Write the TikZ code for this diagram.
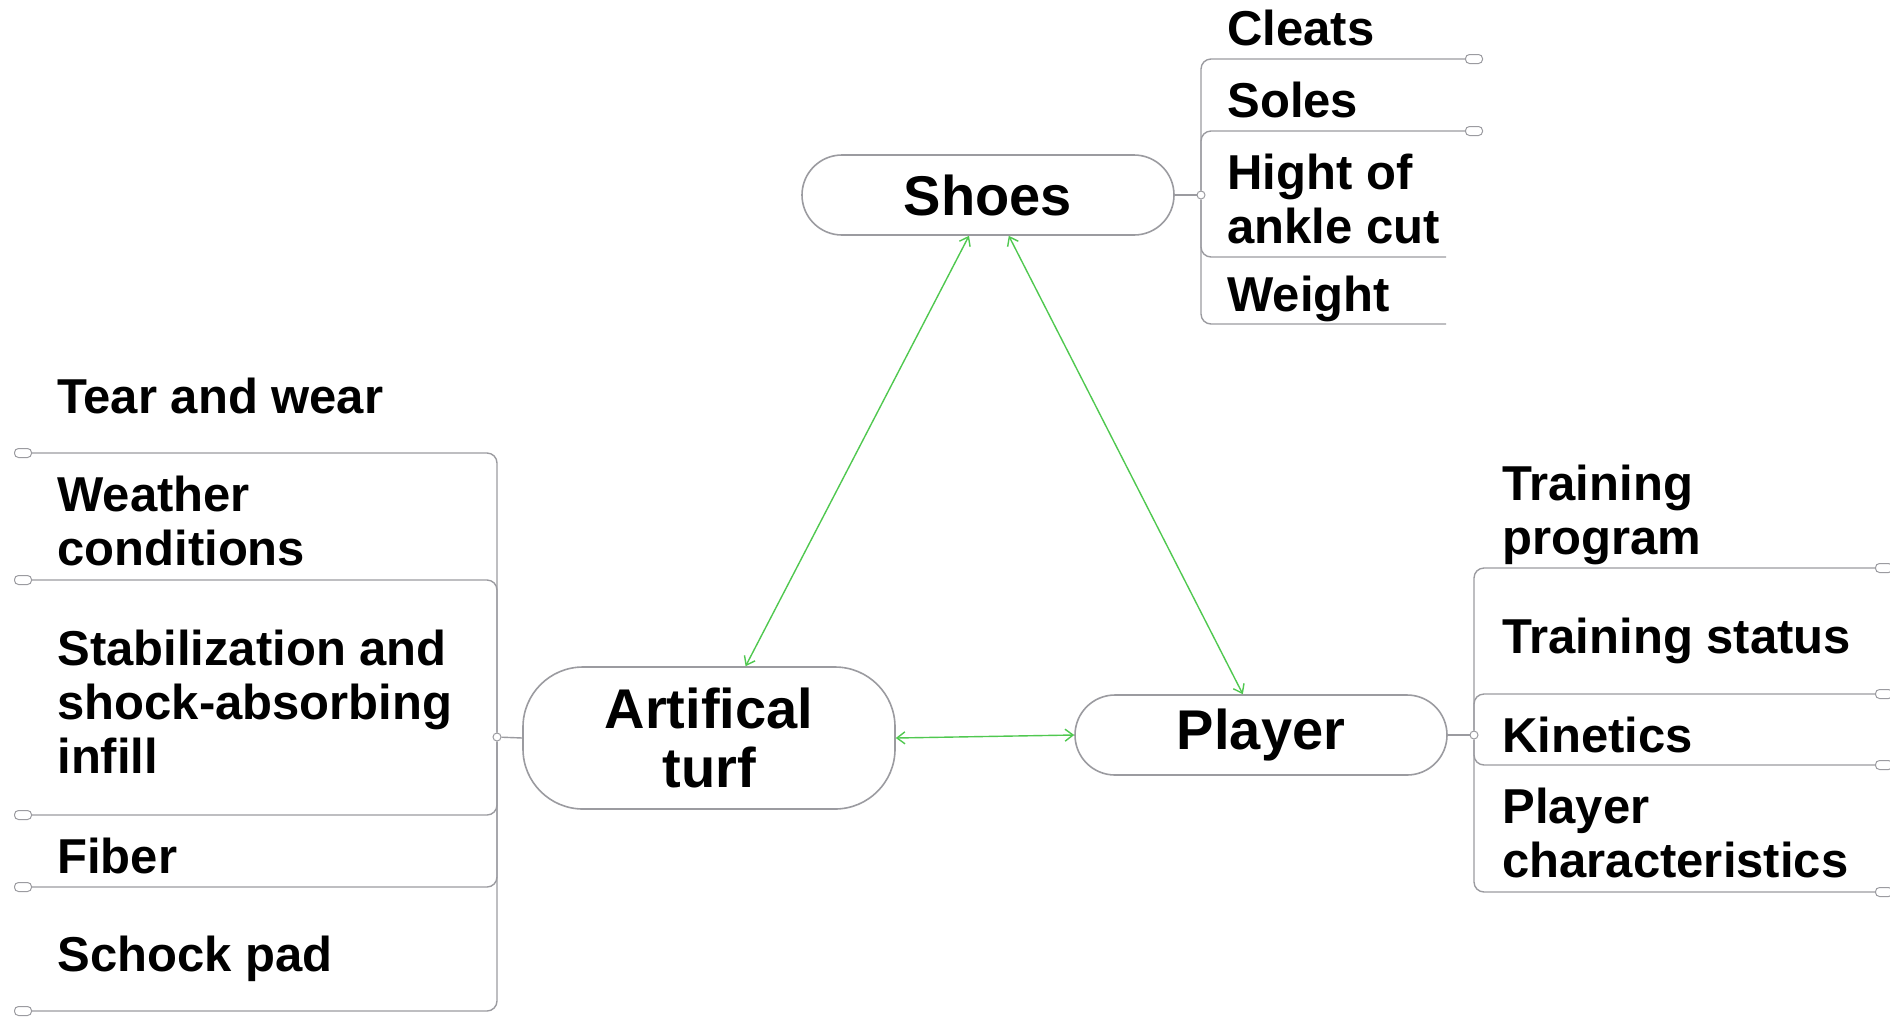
\documentclass[tikz,border=0pt]{standalone}
\usepackage{fontspec}
\setmainfont{Liberation Sans}
\usetikzlibrary{arrows.meta}
\definecolor{linkgreen}{RGB}{80,200,80}
\definecolor{framegray}{RGB}{155,155,160}
\begin{document}
\begin{tikzpicture}[x=0.5pt,y=-0.5pt,
  topic/.style={draw=framegray,line width=0.8pt,rounded corners=20pt,minimum width=186pt,minimum height=40pt,inner sep=0pt,align=center,font=\fontsize{28}{29.5}\selectfont\bfseries},
  leaf/.style={anchor=base west,inner sep=0pt,align=left,font=\fontsize{24.5}{27}\selectfont\bfseries},
  branch/.style={draw=framegray,line width=0.7pt,rounded corners=5pt},
  knob/.style={draw=framegray,line width=0.5pt,rounded corners=2pt,minimum width=8.5pt,minimum height=4.5pt,inner sep=0pt},
  hub/.style={draw=framegray,line width=0.5pt,circle,minimum size=4pt,inner sep=0pt},
  link/.style={draw=linkgreen,line width=0.7pt,{Straight Barb[length=4pt,width=6pt]}-{Straight Barb[length=4pt,width=6pt]}}]
\useasboundingbox (0,0) rectangle (1890,1019);
\node[topic] (shoes) at (988,195) {Shoes};
\node[topic,minimum height=71pt,rounded corners=30pt] (turf) at (709,738) {Artifical\\turf};
\node[topic] (player) at (1261,735) {Player};
\node[hub] (sj) at (1201,195) {};
\node[hub] (tj) at (497,737) {};
\node[hub] (pj) at (1474,735) {};
\draw[branch] (shoes.east) -- (sj);
\draw[branch] (turf.west) -- (tj);
\draw[branch] (player.east) -- (pj);
\node[leaf] (cleats) at (1227,45) {Cleats};
\node[leaf] (soles) at (1227,117) {Soles};
\node[leaf] (ankle) at (1227,243) {Hight of\\ankle cut};
\node[leaf] (weight) at (1227,311) {Weight};
\node[knob] (cleatsknob) at (1474,59) {};
\node[knob] (solesknob) at (1474,131) {};
\coordinate (ankleend) at (1446,257);
\coordinate (weightend) at (1446,324);
\draw[branch] (sj) |- (cleatsknob.west);
\draw[branch] (sj) |- (solesknob.west);
\draw[branch] (sj) |- (ankleend);
\draw[branch] (sj) |- (weightend);
\node[leaf] (tear) at (57,413) {Tear and wear};
\node[leaf] (weather) at (57,565) {Weather\\conditions};
\node[leaf] (infill) at (57,773) {Stabilization and\\shock-absorbing\\infill};
\node[leaf] (fiber) at (57,873) {Fiber};
\node[leaf] (pad) at (57,971) {Schock pad};
\node[knob] (tearknob) at (23,453) {};
\node[knob] (weatherknob) at (23,580) {};
\node[knob] (infillknob) at (23,815) {};
\node[knob] (fiberknob) at (23,887) {};
\node[knob] (padknob) at (23,1011) {};
\draw[branch] (tj) |- (tearknob.east);
\draw[branch] (tj) |- (weatherknob.east);
\draw[branch] (tj) |- (infillknob.east);
\draw[branch] (tj) |- (fiberknob.east);
\draw[branch] (tj) |- (padknob.east);
\node[leaf] (program) at (1502,554) {Training\\program};
\node[leaf] (status) at (1502,653) {Training status};
\node[leaf] (kinetics) at (1502,752) {Kinetics};
\node[leaf] (traits) at (1502,877) {Player\\characteristics};
\node[knob] (programknob) at (1884,568) {};
\node[knob] (statusknob) at (1884,694) {};
\node[knob] (kineticsknob) at (1884,765) {};
\node[knob] (traitsknob) at (1884,892) {};
\draw[branch] (pj) |- (programknob.west);
\draw[branch] (pj) |- (statusknob.west);
\draw[branch] (pj) |- (kineticsknob.west);
\draw[branch] (pj) |- (traitsknob.west);
\draw[link] (shoes.245) -- (turf.63);
\draw[link] (shoes.297) -- (player.114);
\draw[link] (turf.east) -- (player.west);
\end{tikzpicture}
\end{document}
